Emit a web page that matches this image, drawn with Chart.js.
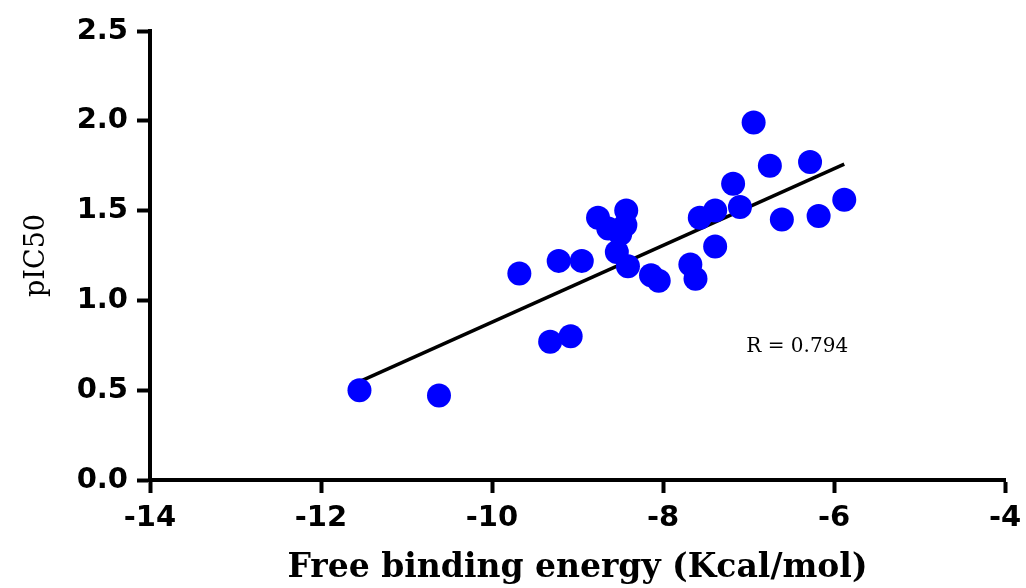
<!DOCTYPE html>
<html lang="en">
<head>
    <meta charset="UTF-8">
    <title>pIC50 vs free binding energy</title>
    <script src="https://cdn.jsdelivr.net/npm/chart.js"></script>
    <style>
        body {
            margin: 0;
            padding: 0;
            background: #ffffff;
        }
        #wrap {
            width: 1026px;
            height: 588px;
        }
    </style>
</head>
<body>
    <div id="wrap">
        <canvas id="scatterChart" width="1026" height="588"></canvas>
    </div>

    <script>
        // energias de union (x) y pIC50 (y)
        const energy = [-11.55, -10.62, -9.68, -9.22, -8.95, -9.32, -9.08, -8.76, -8.64, -8.43,
                        -8.44, -8.50, -8.54, -8.41, -8.14, -8.05, -7.68, -7.62, -7.57, -7.39,
                        -7.10, -7.18, -7.39, -6.94, -6.75, -6.28, -6.61, -6.18, -5.88];
        const pic50  = [0.50, 0.47, 1.15, 1.22, 1.22, 0.77, 0.80, 1.46, 1.40, 1.50,
                        1.42, 1.37, 1.27, 1.19, 1.14, 1.11, 1.20, 1.12, 1.46, 1.50,
                        1.52, 1.65, 1.30, 1.99, 1.75, 1.77, 1.45, 1.47, 1.56];

        // recta de regresion
        const fitSlope = 0.2135;
        const fitIntercept = 3.014;
        const rLabel = 'R = 0.794';
        const rLabelPos = { x: -6.43, y: 0.74 };

        const xTicks = [-14, -12, -10, -8, -6, -4];
        const yTicks = [0.0, 0.5, 1.0, 1.5, 2.0, 2.5];

        const puntos = energy.map((e, i) => ({ x: e, y: pic50[i] }));
        const xMin = Math.min(...energy);
        const xMax = Math.max(...energy);
        const recta = [
            { x: xMin, y: fitIntercept + fitSlope * xMin },
            { x: xMax, y: fitIntercept + fitSlope * xMax }
        ];

        // texto del coeficiente R
        const rTextPlugin = {
            id: 'rText',
            afterDatasetsDraw(chart) {
                const ctx = chart.ctx;
                const x = chart.scales.x.getPixelForValue(rLabelPos.x);
                const y = chart.scales.y.getPixelForValue(rLabelPos.y);
                ctx.save();
                ctx.font = '20px "DejaVu Serif"';
                ctx.fillStyle = '#000';
                ctx.textAlign = 'center';
                ctx.textBaseline = 'middle';
                ctx.fillText(rLabel, x, y);
                ctx.restore();
            }
        };

        const tickFont = { family: '"DejaVu Sans"', weight: 'bold', size: 29 };

        new Chart(document.getElementById('scatterChart').getContext('2d'), {
            type: 'scatter',
            data: {
                datasets: [
                    {
                        label: 'Compuestos',
                        data: puntos,
                        backgroundColor: '#0000ff',
                        borderColor: '#0000ff',
                        pointRadius: 12,
                        pointBorderWidth: 0
                    },
                    {
                        label: 'Regresion',
                        data: recta,
                        showLine: true,
                        borderColor: '#000',
                        borderWidth: 3.5,
                        pointRadius: 0
                    }
                ]
            },
            options: {
                responsive: false,
                animation: false,
                layout: {
                    padding: { left: 0, right: 21, top: 31, bottom: 0 }
                },
                plugins: {
                    legend: { display: false },
                    tooltip: { enabled: false }
                },
                scales: {
                    x: {
                        type: 'linear',
                        min: -14,
                        max: -4,
                        afterBuildTicks: s => { s.ticks = xTicks.map(v => ({ value: v })); },
                        afterFit: s => {
                            s.height = 108;
                            s.paddingLeft = 0;
                            s.paddingRight = 0;
                        },
                        grid: {
                            drawOnChartArea: false,
                            drawTicks: true,
                            tickLength: 13,
                            tickWidth: 4,
                            tickColor: '#000'
                        },
                        border: { display: true, color: '#000', width: 4 },
                        ticks: {
                            color: '#000',
                            font: tickFont,
                            padding: 8,
                            maxRotation: 0
                        },
                        title: {
                            display: true,
                            text: 'Free binding energy (Kcal/mol)',
                            color: '#000',
                            font: { family: '"DejaVu Serif"', weight: 'bold', size: 33 },
                            padding: { top: 0, bottom: 0 }
                        }
                    },
                    y: {
                        type: 'linear',
                        min: 0,
                        max: 2.5,
                        afterBuildTicks: s => { s.ticks = yTicks.map(v => ({ value: v })); },
                        afterFit: s => { s.width = 150; },
                        grid: {
                            drawOnChartArea: false,
                            drawTicks: true,
                            tickLength: 13,
                            tickWidth: 4,
                            tickColor: '#000'
                        },
                        border: { display: true, color: '#000', width: 4 },
                        ticks: {
                            color: '#000',
                            font: tickFont,
                            padding: 9,
                            callback: v => v.toFixed(1)
                        },
                        title: {
                            display: true,
                            text: 'pIC50',
                            color: '#000',
                            font: { family: '"DejaVu Serif"', size: 27 },
                            padding: { top: 21, bottom: 0 }
                        }
                    }
                }
            },
            plugins: [rTextPlugin]
        });
    </script>
</body>
</html>
